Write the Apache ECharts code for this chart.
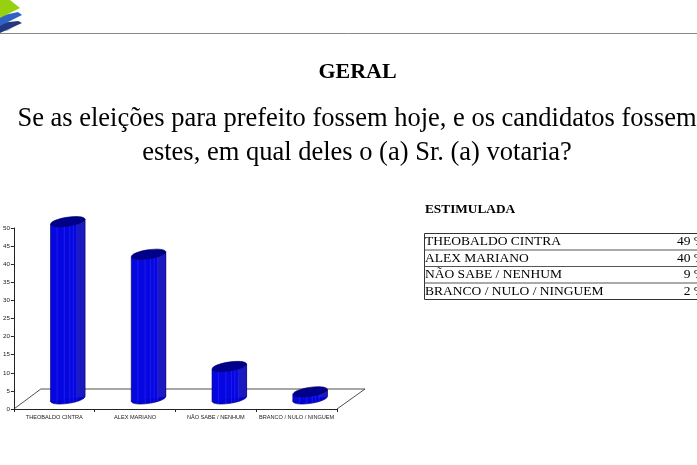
<!DOCTYPE html>
<html><head><meta charset="utf-8">
<style>html,body{margin:0;padding:0;background:#fff}#c{width:697px;height:465px}</style>
<script src="https://cdn.jsdelivr.net/npm/echarts@6/dist/echarts.min.js"></script>
</head><body><div id="c"></div>
<script>
const categories = ["THEOBALDO CINTRA", "ALEX MARIANO", "NÃO SABE / NENHUM", "BRANCO / NULO / NINGUEM"];
const chartValues = [49, 40, 9, 2];
const tableValues = ["49 %", "40 %", "9 %", "2 %"];
const tableHead = "ESTIMULADA";
const titleText = "GERAL";
const questionLines = ["Se as eleições para prefeito fossem hoje, e os candidatos fossem", "estes, em qual deles o (a) Sr. (a) votaria?"];

const SERIF = '"Liberation Serif","Times New Roman",serif';
const SANS = '"Liberation Sans",Arial,sans-serif';
const chart = echarts.init(document.getElementById('c'), null, {renderer: 'canvas'});

const DX = 13.5, DY = -10, RX = 17.3, RY = 4.4, SLOPE = 2.6;
const stripeFracs = [-0.62, -0.2, 0.12, 0.32, 0.52];
function renderBar(params, api) {
  const p = api.coord([api.value(0), api.value(1)]);
  const b = api.coord([api.value(0), 0]);
  const cx = p[0] + DX, topY = p[1] + DY, botY = b[1] + DY;
  const ell = (y, fill) => ({type: 'ellipse', shape: {cx: cx, cy: y, rx: RX, ry: RY},
    rotation: Math.atan2(SLOPE, RX), originX: cx, originY: y,
    style: {fill: fill, stroke: '#00005a', lineWidth: 0.6}});
  const kids = [
    ell(botY, '#0000d8'),
    {type: 'polygon', shape: {points: [[cx - RX, topY + SLOPE], [cx + RX, topY - SLOPE], [cx + RX, botY - SLOPE], [cx - RX, botY + SLOPE]]},
      style: {fill: '#0606e0', stroke: null}},
    {type: 'polygon', shape: {points: [[cx + RX * 0.52, topY - SLOPE * 0.52], [cx + RX, topY - SLOPE], [cx + RX, botY - SLOPE], [cx + RX * 0.52, botY - SLOPE * 0.52]]},
      style: {fill: '#1a1ac0', stroke: null}}
  ];
  stripeFracs.forEach(f => {
    const x = cx + f * RX;
    kids.push({type: 'line', shape: {x1: x, y1: topY, x2: x, y2: botY + Math.sqrt(1 - f * f) * RY - f * SLOPE},
      style: {stroke: '#3c3cff', lineWidth: 0.7, opacity: 0.6}});
  });
  kids.push({type: 'line', shape: {x1: cx - RX, y1: topY + SLOPE, x2: cx - RX, y2: botY + SLOPE}, style: {stroke: '#00005a', lineWidth: 0.6}});
  kids.push({type: 'line', shape: {x1: cx + RX, y1: topY - SLOPE, x2: cx + RX, y2: botY - SLOPE}, style: {stroke: '#00005a', lineWidth: 0.6}});
  kids.push(ell(topY, '#000088'));
  return {type: 'group', children: kids};
}
function renderFloor(params, api) {
  const g = params.coordSys;
  const y0 = g.y + g.height, skewX = 27, skewY = 20;
  return {type: 'polyline', silent: true, shape: {points: [[g.x, y0], [g.x + skewX, y0 - skewY], [g.x + g.width + skewX + 1, y0 - skewY], [g.x + g.width, y0]]},
    style: {fill: null, stroke: '#222', lineWidth: 0.8}};
}

const TX = 424.5, TY = 233.5, RH = 16.5;
const tableGraphics = [
  {type: 'rect', shape: {x: TX, y: TY, width: 300, height: RH * 4}, style: {fill: 'none', stroke: '#333', lineWidth: 1}},
  {type: 'text', style: {x: 425, y: 209.5, text: tableHead, font: 'bold 13.3px ' + SERIF, fill: '#000', textVerticalAlign: 'middle'}}
];
categories.forEach((c, i) => {
  if (i) tableGraphics.push({type: 'line', shape: {x1: TX, y1: TY + RH * i, x2: 697, y2: TY + RH * i}, style: {stroke: '#555', lineWidth: 1}});
  const y = TY + RH * i + RH / 2;
  tableGraphics.push({type: 'text', style: {x: 425, y: y, text: c, font: '13.5px ' + SERIF, fill: '#000', textVerticalAlign: 'middle'}});
  tableGraphics.push({type: 'text', style: {x: 705, y: y, text: tableValues[i], font: '13.5px ' + SERIF, fill: '#000', textAlign: 'right', textVerticalAlign: 'middle'}});
});

const headGraphics = [
  {type: 'line', shape: {x1: 0, y1: 33.5, x2: 697, y2: 33.5}, style: {stroke: '#888', lineWidth: 1}},
  {type: 'polygon', shape: {points: [[0, 31], [22, 20], [8, 31]]}, style: {fill: '#b8c8e8'}},
  {type: 'polygon', shape: {points: [[0, 23], [18, 21], [22, 23], [0, 33]]}, style: {fill: '#24387f'}},
  {type: 'polygon', shape: {points: [[0, 16], [18, 12], [22, 15], [0, 26]]}, style: {fill: '#2f62c4'}},
  {type: 'polygon', shape: {points: [[0, 0], [10, 0], [20, 8], [0, 18]]}, style: {fill: '#96d010'}},
  {type: 'text', style: {x: 357.5, y: 72, text: titleText, font: 'bold 22px ' + SERIF, fill: '#000', textAlign: 'center', textVerticalAlign: 'middle'}},
  {type: 'text', style: {x: 357, y: 119, text: questionLines[0], font: '26.5px ' + SERIF, fill: '#000', textAlign: 'center', textVerticalAlign: 'middle'}},
  {type: 'text', style: {x: 357, y: 153, text: questionLines[1], font: '26.5px ' + SERIF, fill: '#000', textAlign: 'center', textVerticalAlign: 'middle'}}
];

chart.setOption({
  animation: false,
  backgroundColor: '#fff',
  grid: {left: 13, top: 228, width: 324, height: 181, containLabel: false},
  xAxis: {type: 'category', data: categories, boundaryGap: true,
    axisLine: {lineStyle: {color: '#222', width: 1}},
    axisTick: {show: true, length: 3, alignWithLabel: false, lineStyle: {color: '#222'}},
    axisLabel: {interval: 0, fontFamily: SANS, fontSize: 5.6, color: '#222', margin: 5}, splitLine: {show: false}},
  yAxis: {type: 'value', min: 0, max: 50, interval: 5,
    axisLine: {show: true, lineStyle: {color: '#222', width: 1}},
    axisTick: {show: true, length: 3, lineStyle: {color: '#222'}},
    axisLabel: {fontFamily: SANS, fontSize: 6.2, color: '#222', margin: 4}, splitLine: {show: false}},
  series: [
    {type: 'custom', renderItem: renderFloor, data: [0], clip: false, z: 1, silent: true,
      encode: {x: [], y: []}},
    {type: 'custom', renderItem: renderBar, clip: false, z: 2,
      data: chartValues.map((v, i) => [i, v]), encode: {x: 0, y: 1}}
  ],
  graphic: headGraphics.concat(tableGraphics)
});
</script></body></html>
